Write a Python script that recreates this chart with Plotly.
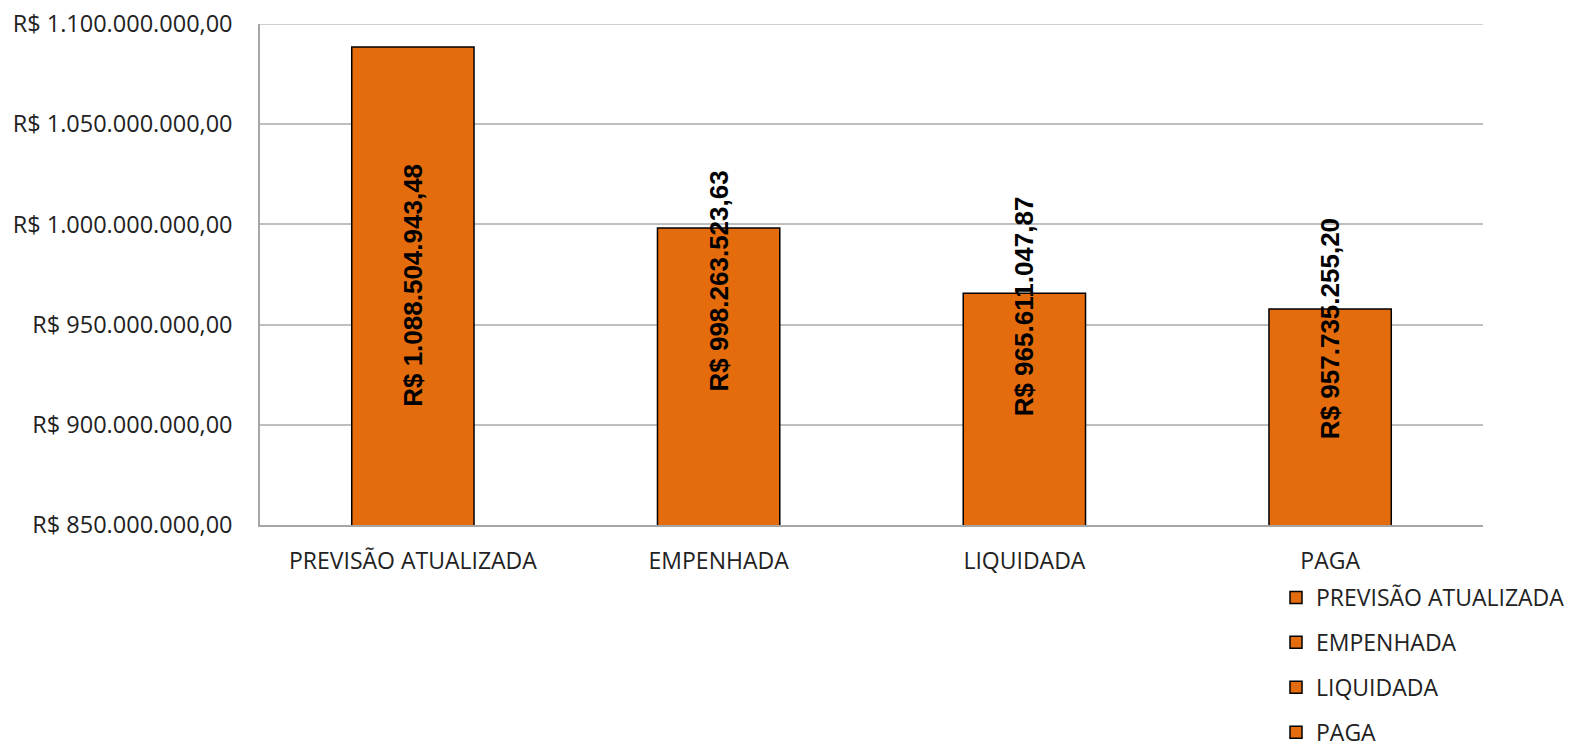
import plotly.graph_objects as go

categories = ["PREVISÃO ATUALIZADA", "EMPENHADA", "LIQUIDADA", "PAGA"]
values = [1088504943.48, 998263523.63, 965611047.87, 957735255.20]
value_labels = ["R$ 1.088.504.943,48", "R$ 998.263.523,63", "R$ 965.611.047,87", "R$ 957.735.255,20"]
tick_vals = [850e6, 900e6, 950e6, 1000e6, 1050e6, 1100e6]
tick_text = ["R$ 850.000.000,00", "R$ 900.000.000,00", "R$ 950.000.000,00",
             "R$ 1.000.000.000,00", "R$ 1.050.000.000,00", "R$ 1.100.000.000,00"]

BAR = "#E46C0C"
GRID = "#BFBFBF"
W, H = 1564, 745  # page body has 8px default margin

fig = go.Figure()
for i, (c, v) in enumerate(zip(categories, values)):
    fig.add_trace(go.Bar(
        x=[c], y=[v], name=c, legendgroup=c,
        marker=dict(color=BAR, line=dict(color="black", width=1.5)),
        width=0.4, hoverinfo="skip",
    ))

# label center positions (as seen in reference, Excel auto-placement)
label_centers = [969.8e6, 971.8e6, 959.3e6, 947.8e6]
for c, t, yc in zip(categories, value_labels, label_centers):
    fig.add_annotation(x=c, y=yc, text=t, textangle=-90, showarrow=False,
                       font=dict(family="Liberation Sans", size=26, color="black", weight="bold"),
                       xanchor="center", yanchor="middle")

# top gridline (plotly drops the gridline at the range edge)
fig.add_shape(type="line", xref="paper", x0=0, x1=1, yref="y",
              y0=tick_vals[-1], y1=tick_vals[-1],
              line=dict(color=GRID, width=1.5), layer="below")

fig.update_layout(
    width=W, height=H,
    margin=dict(l=252, r=89, t=16, b=228, autoexpand=False),
    paper_bgcolor="white", plot_bgcolor="white",
    barmode="overlay",
    showlegend=True,
    legend=dict(x=(1276 - 8) / W, xref="container", y=(H - 568) / H, yref="container",
                xanchor="left", yanchor="top",
                font=dict(family="Open Sans", size=23, color="#222"),
                tracegroupgap=12, itemwidth=30, bgcolor="rgba(0,0,0,0)"),
    font=dict(family="Open Sans", size=23, color="#222"),
)
fig.update_yaxes(range=[850e6, 1100e6], tickvals=tick_vals, ticktext=tick_text,
                 showgrid=True, gridcolor=GRID, gridwidth=1.5,
                 showline=True, linecolor="#A6A6A6", linewidth=1.5,
                 zeroline=False, ticks="", tickfont=dict(size=23.5), ticklabelstandoff=21,
                 ticklabeloverflow="allow", automargin=False)
fig.update_xaxes(showline=True, linecolor="#A6A6A6", linewidth=2, ticks="",
                 tickfont=dict(size=23), ticklabelstandoff=14, automargin=False)

fig.write_html("out.html")
